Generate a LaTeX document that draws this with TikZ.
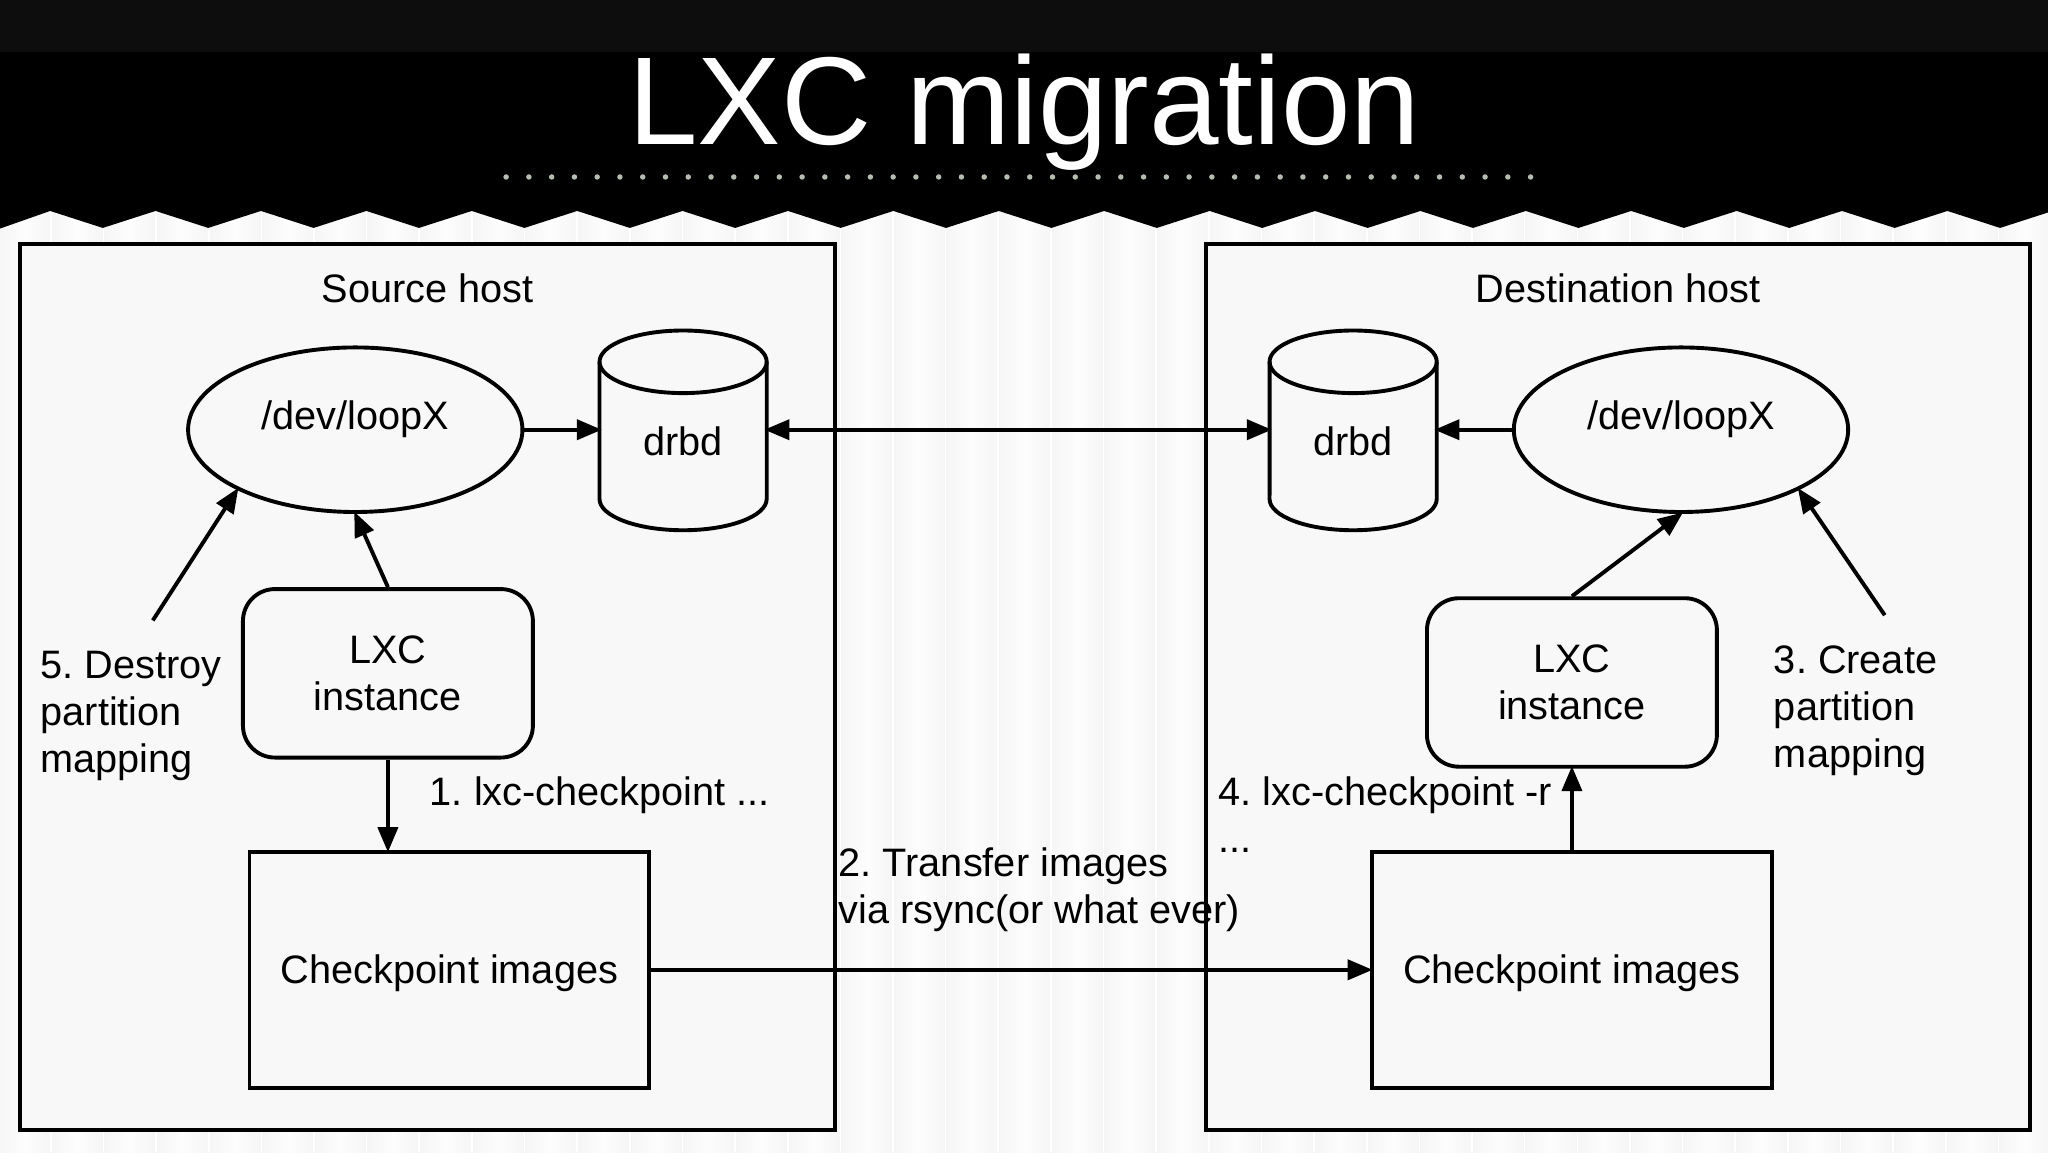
\documentclass[tikz,border=0pt]{standalone}
\usepackage{fontspec}
\setmainfont{Liberation Sans}
\usetikzlibrary{arrows.meta,calc,shapes.geometric}
\definecolor{band}{HTML}{0D0D0D}
\definecolor{paper}{HTML}{F8F8F8}
\definecolor{boxfill}{HTML}{F8F8F8}
\definecolor{dotcol}{HTML}{B4BEAC}
\definecolor{foldedge}{HTML}{F5F5F5}
\definecolor{foldmid}{HTML}{FDFDFD}
\def\u{1.30612pt}
\tikzset{
  ln/.style={line width=3.9pt,draw=black},
  arr/.style={ln,shorten >=-2.5pt,-{Triangle[length=25pt,width=20pt]}},
  darr/.style={ln,shorten >=-2.5pt,shorten <=-2.5pt,{Triangle[length=25pt,width=20pt]}-{Triangle[length=25pt,width=20pt]}},
  txt/.style={inner sep=0pt,font=\frenchspacing\fontsize{39.7pt}{47pt}\selectfont,align=left,text=black},
  hostbox/.style={ln,rectangle,fill=boxfill,inner sep=0pt,minimum height=678*\u},
  oval/.style={ln,ellipse,fill=boxfill,inner sep=0pt,minimum width=256*\u,minimum height=126*\u},
  lxcbox/.style={ln,rectangle,rounded corners=32pt,fill=boxfill,inner sep=0pt,minimum width=222*\u,minimum height=129*\u,txt,align=center},
  ckbox/.style={ln,rectangle,fill=boxfill,inner sep=0pt,minimum width=306*\u,minimum height=181*\u},
  cylnode/.style={rectangle,inner sep=0pt,minimum width=128*\u,minimum height=153*\u},
}
\newcommand{\drbdcyl}[1]{%
  \draw[ln,fill=boxfill] ($(#1)+(-64,-52)$) arc[start angle=180,end angle=0,x radius=83.6pt,y radius=31.3pt]
    -- ($(#1)+(64,53)$) arc[start angle=0,end angle=-180,x radius=83.6pt,y radius=31.3pt] -- cycle;
  \draw[ln] ($(#1)+(-64,-52)$) arc[start angle=180,end angle=360,x radius=83.6pt,y radius=31.3pt];
}
\begin{document}
\begin{tikzpicture}[x=1.30612pt,y=-1.30612pt]
\useasboundingbox (0,0) rectangle (1568,882);
\fill[paper] (0,0) rectangle (1568,882);
% vertical folds of the backdrop
\foreach \k in {0,...,39}{
  \fill[left color=foldedge,right color=foldmid] ({-1.4+40.3*\k},150) rectangle ({-1.4+40.3*\k+20.2},882);
  \fill[left color=foldmid,right color=foldedge] ({-1.4+40.3*\k+20.1},150) rectangle ({-1.4+40.3*\k+40.3},882);
  \fill[white] ({-1.4+40.3*\k-0.6},150) rectangle ({-1.4+40.3*\k+0.6},882);
}
% black header with zigzag edge
\fill[black] (0,0) -- (0,175)
  \foreach \k in {0,...,19}{ -- ({-2+80.7*\k+40.4},161.5) -- ({-2+80.7*(\k+1)},174.5) } -- (1568,0) -- cycle;
\node[anchor=base west,inner sep=0pt,text=white,font=\fontsize{125pt}{125pt}\selectfont] (title) at (481,111) {LXC migration};
\fill[band] (0,0) rectangle (1568,40);
\foreach \k in {0,...,45}{ \fill[dotcol] ({387.5+17.43*\k},135.5) circle[radius=2.1]; }
% host frames
\node[hostbox,minimum width=624*\u] (srchost) at (327,526) {};
\node[hostbox,minimum width=631*\u] (dsthost) at (1238.5,526) {};
\node[txt] (srclabel) at (327.5,221) {Source host};
\node[txt] (dstlabel) at (1239,221) {Destination host};
% devices
\node[oval] (srcloop) at (272,329) {};
\node[oval] (dstloop) at (1287,329) {};
\node[txt] (srclooptxt) at (272,321) {/dev/loopX};
\node[txt] (dstlooptxt) at (1287,321) {/dev/loopX};
\node[cylnode] (srcdrbd) at (523,329) {};
\node[cylnode] (dstdrbd) at (1036,329) {};
\drbdcyl{srcdrbd}
\drbdcyl{dstdrbd}
\node[txt] (srcdrbdtxt) at (523,338) {drbd};
\node[txt] (dstdrbdtxt) at (1036,338) {drbd};
% instances and images
\node[lxcbox] (srclxc) at (297,515.5) {LXC\\instance};
\node[lxcbox] (dstlxc) at (1203.5,522.5) {LXC\\instance};
\node[ckbox] (srcck) at (344,742.5) {};
\node[ckbox] (dstck) at (1203.5,742.5) {};
\node[txt] (srccktxt) at (344,745.5) {Checkpoint images};
\node[txt] (dstcktxt) at (1203.5,745.5) {Checkpoint images};
% free labels
\node[txt,anchor=west] (t5) at (31,548.5) {5. Destroy\\partition\\mapping};
\node[txt,anchor=west] (t3) at (1358,544) {3. Create\\partition\\mapping};
\node[txt,anchor=west] (t1) at (329,608.5) {1. lxc-checkpoint ...};
\node[txt,anchor=west] (t4) at (933,624) {4. lxc-checkpoint -r\\...};
\node[txt,anchor=west] (t2) at (642,681.5) {2. Transfer images\\via rsync(or what ever)};
\coordinate (free5) at (117,475);
\coordinate (free3) at (1443,471);
% connectors
\draw[arr] (srcloop.east) -- (srcdrbd.west);
\draw[arr] (dstloop.west) -- (dstdrbd.east);
\draw[darr] (srcdrbd.east) -- (dstdrbd.west);
\draw[arr] (srclxc.north) -- (srcloop.south);
\draw[arr] (dstlxc.north) -- (dstloop.south);
\draw[arr] (srclxc.south) -- (srclxc.south |- srcck.north);
\draw[arr] (dstck.north) -- (dstlxc.south);
\draw[arr] (srcck.east) -- (dstck.west);
\draw[arr] (free5) -- (srcloop.207);
\draw[arr] (free3) -- (dstloop.333);
\end{tikzpicture}
\end{document}
